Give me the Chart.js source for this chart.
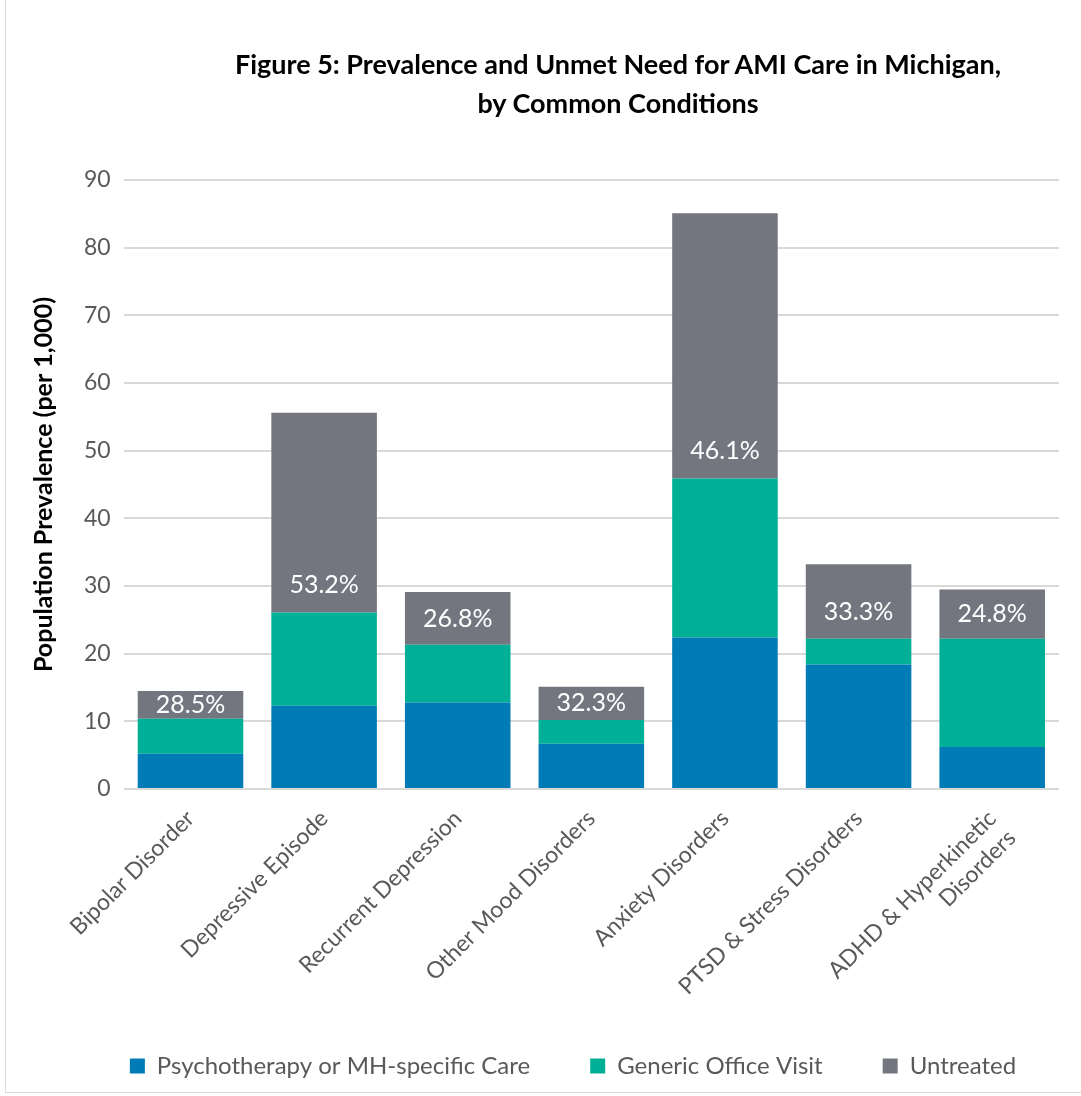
<!DOCTYPE html>
<html>
<head>
<meta charset="utf-8">
<script src="https://cdn.jsdelivr.net/npm/chart.js@4.4.1/dist/chart.umd.min.js"></script>
<style>
  body { margin: 0; background: #fff; }
  #wrap { position: relative; width: 1081px; height: 1096px; }
  #frame { position: absolute; left: 5px; top: 0; right: 0; bottom: 3px;
           border-left: 1px solid #d9d9d9; border-bottom: 1px solid #d9d9d9; }
  #title { position: absolute; left: 618px; top: 44px; transform: translateX(-50%);
           font-family: Lato, sans-serif; font-weight: bold; font-size: 27px;
           line-height: 39px; text-align: center; white-space: nowrap; color: #000; }
</style>
</head>
<body>
<div id="wrap">
  <div id="frame"></div>
  <canvas id="amiChart"></canvas>
  <div id="title">Figure 5: Prevalence and Unmet Need for AMI Care in Michigan,<br>by Common Conditions</div>
</div>
<script>
// categorias e valores (por 1.000 habitantes)
const conditions = [
  'Bipolar Disorder',
  'Depressive Episode',
  'Recurrent Depression',
  'Other Mood Disorders',
  'Anxiety Disorders',
  'PTSD & Stress Disorders',
  ['ADHD & Hyperkinetic', 'Disorders']
];
const psychotherapy = [5.2, 12.3, 12.8, 6.7, 22.4, 18.4, 6.2];
const genericVisit = [5.2, 13.8, 8.5, 3.5, 23.5, 3.8, 16.0];
const untreated = [4.1, 29.5, 7.8, 4.9, 39.2, 11.0, 7.3];
const untreatedPct = ['28.5%', '53.2%', '26.8%', '32.3%', '46.1%', '33.3%', '24.8%'];
const yTicks = [0, 10, 20, 30, 40, 50, 60, 70, 80, 90];

const fontFamily = 'Lato, sans-serif';
const grayText = '#595959';

// rótulo de % dentro da parte "Untreated"
const pctLabels = {
  id: 'pctLabels',
  afterDatasetsDraw(chart) {
    const meta = chart.getDatasetMeta(2);
    const ctx = chart.ctx;
    ctx.save();
    ctx.fillStyle = '#ffffff';
    ctx.font = '25px ' + fontFamily;
    ctx.textAlign = 'center';
    ctx.textBaseline = 'middle';
    meta.data.forEach((bar, i) => {
      const y = Math.max(bar.base - 27, (bar.y + bar.base) / 2);
      ctx.fillText(untreatedPct[i], bar.x, y);
    });
    ctx.restore();
  }
};

// legenda um pouco pra direita e pra cima, como no original
const nudgeLegend = {
  id: 'nudgeLegend',
  afterLayout(chart) {
    const lg = chart.legend;
    lg.left += 31;
    lg.right += 31;
    lg.top -= 8;
    lg.bottom -= 8;
  }
};

const ctx = document.getElementById('amiChart').getContext('2d');
const amiChart = new Chart(ctx, {
  type: 'bar',
  data: {
    labels: conditions,
    datasets: [
      {
        label: 'Psychotherapy or MH-specific Care',
        data: psychotherapy,
        backgroundColor: '#007bb6'
      },
      {
        label: 'Generic Office Visit',
        data: genericVisit,
        backgroundColor: '#00b096'
      },
      {
        label: 'Untreated',
        data: untreated,
        backgroundColor: '#73767f'
      }
    ]
  },
  options: {
    responsive: true,
    maintainAspectRatio: false,
    animation: false,
    datasets: {
      bar: {
        categoryPercentage: 1,
        barPercentage: 0.79,
        borderWidth: 0
      }
    },
    layout: {
      padding: { top: 180, left: 25, right: 22, bottom: 0 }
    },
    scales: {
      x: {
        stacked: true,
        grid: { display: false },
        border: { display: false },
        ticks: {
          color: grayText,
          font: { family: fontFamily, size: 23 },
          maxRotation: 45,
          minRotation: 45,
          padding: 8
        },
        afterFit(axis) {
          axis.height = 213;
        }
      },
      y: {
        stacked: true,
        min: 0,
        max: 90,
        afterBuildTicks(axis) {
          axis.ticks = yTicks.map(v => ({ value: v }));
        },
        grid: { color: '#d9d9d9', lineWidth: 2, drawTicks: false },
        border: { display: false },
        ticks: {
          color: grayText,
          font: { family: fontFamily, size: 23 },
          padding: 13
        },
        title: {
          display: true,
          text: 'Population Prevalence (per 1,000)',
          color: '#000',
          font: { family: fontFamily, size: 25, weight: 'bold' },
          padding: { bottom: 12 }
        }
      }
    },
    plugins: {
      title: { display: false },
      tooltip: { enabled: false },
      legend: {
        display: true,
        position: 'bottom',
        labels: {
          color: grayText,
          font: { family: fontFamily, size: 24 },
          boxWidth: 15,
          boxHeight: 15,
          padding: 60
        }
      }
    }
  },
  plugins: [pctLabels, nudgeLegend]
});
</script>
</body>
</html>
